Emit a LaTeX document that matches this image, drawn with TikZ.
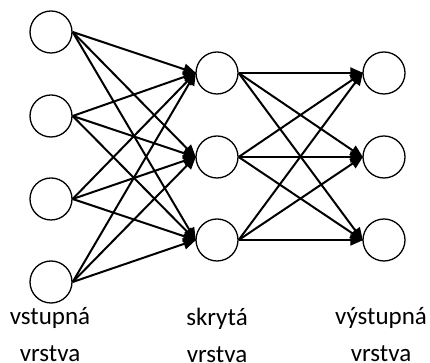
\documentclass[tikz,border=0pt]{standalone}
\usepackage{fontspec}
\setmainfont{Carlito}
\usetikzlibrary{arrows.meta,positioning}
\tikzstyle{neuron} = [circle, draw, line width=1.3pt, minimum size=42pt, inner sep=0pt]
\tikzstyle{line} = [draw, line width=2pt, -{Triangle[length=13pt,width=11pt]}, shorten >=-1pt]
\tikzstyle{caption} = [align=center, font=\fontsize{25}{37}\selectfont, inner sep=0pt]

\begin{document}
\begin{tikzpicture}[x=1pt, y=1pt]
	\useasboundingbox (0,0) rectangle (430,363);

		% vstupna vrstva
		\node [neuron] (in1) at (51,331) {};
		\node [neuron] (in2) at (51,247) {};
		\node [neuron] (in3) at (51,164) {};
		\node [neuron] (in4) at (51,81) {};

		% skryta vrstva
		\node [neuron] (hid1) at (217,290) {};
		\node [neuron] (hid2) at (217,206) {};
		\node [neuron] (hid3) at (217,123) {};

		% vystupna vrstva
		\node [neuron] (out1) at (384,290) {};
		\node [neuron] (out2) at (384,206) {};
		\node [neuron] (out3) at (384,123) {};

		\path [line] (in1.east) -- (hid1.west);
		\path [line] (in1.east) -- (hid2.west);
		\path [line] (in1.east) -- (hid3.west);

		\path [line] (in2.east) -- (hid1.west);
		\path [line] (in2.east) -- (hid2.west);
		\path [line] (in2.east) -- (hid3.west);

		\path [line] (in3.east) -- (hid1.west);
		\path [line] (in3.east) -- (hid2.west);
		\path [line] (in3.east) -- (hid3.west);

		\path [line] (in4.east) -- (hid1.west);
		\path [line] (in4.east) -- (hid2.west);
		\path [line] (in4.east) -- (hid3.west);

		\path [line] (hid1.east) -- (out1.west);
		\path [line] (hid1.east) -- (out2.west);
		\path [line] (hid1.east) -- (out3.west);

		\path [line] (hid2.east) -- (out1.west);
		\path [line] (hid2.east) -- (out2.west);
		\path [line] (hid2.east) -- (out3.west);

		\path [line] (hid3.east) -- (out1.west);
		\path [line] (hid3.east) -- (out2.west);
		\path [line] (hid3.east) -- (out3.west);

		% popisky
		\node [caption] (inlabel) at (50,28) {vstupná\\vrstva};
		\node [caption] (hidlabel) at (217,28) {skrytá\\vrstva};
		\node [caption] (outlabel) at (381,28) {výstupná\\vrstva};
	\end{tikzpicture}
\end{document}
